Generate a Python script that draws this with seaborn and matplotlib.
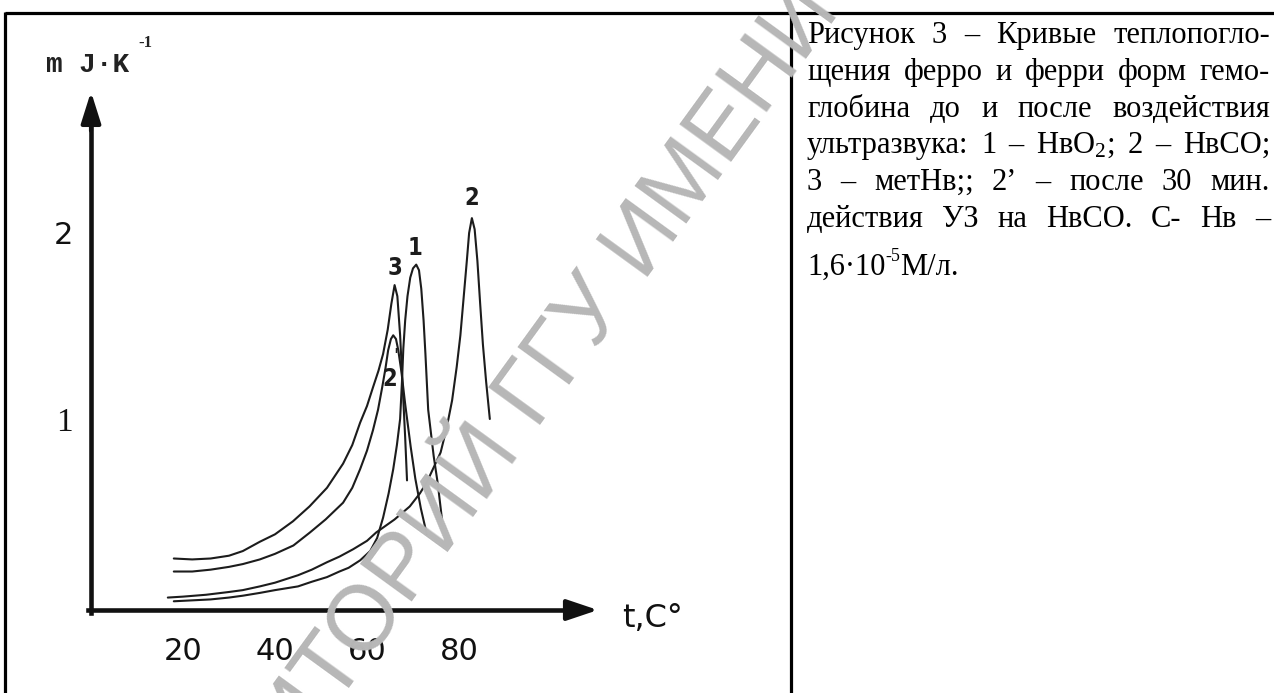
import matplotlib
matplotlib.use("Agg")
import matplotlib.pyplot as plt
import seaborn as sns
import pandas as pd
from matplotlib.lines import Line2D

# ---------------- data ----------------
t_curve1 = [18, 22, 26, 30, 33, 36.7, 40, 45, 48, 51.3, 54, 56, 58.5, 60.7, 62.2, 63.5, 64.7, 65.7,
            66.5, 67.2, 67.6, 67.9, 68.3, 68.8, 69.4, 70, 70.7, 71.3, 71.8, 72.3, 72.7, 73.3, 74.5,
            75.4, 76.3]
v_curve1 = [0.02, 0.025, 0.03, 0.04, 0.05, 0.065, 0.08, 0.10, 0.125, 0.15, 0.18, 0.20, 0.24, 0.29,
            0.36, 0.47, 0.60, 0.73, 0.86, 1.00, 1.20, 1.38, 1.53, 1.66, 1.76, 1.81, 1.83, 1.80, 1.70,
            1.53, 1.35, 1.05, 0.80, 0.65, 0.46]

t_curve2 = [16.7, 20, 25, 30, 33, 36.7, 40, 45, 48, 51.3, 54, 57, 60, 62, 66, 69.3, 71.5, 73, 74.5,
            76, 77.3, 78.5, 79.5, 80.3, 81, 81.7, 82.2, 82.8, 83.4, 84, 84.6, 85.2, 85.9, 86.7]
v_curve2 = [0.04, 0.045, 0.055, 0.07, 0.08, 0.10, 0.12, 0.16, 0.19, 0.23, 0.26, 0.30, 0.345, 0.39,
            0.46, 0.53, 0.60, 0.66, 0.74, 0.82, 0.95, 1.10, 1.28, 1.45, 1.65, 1.85, 2.00, 2.08, 2.02,
            1.85, 1.62, 1.40, 1.20, 1.00]

t_curve3 = [18, 22, 26, 30, 33, 36.7, 40, 43.9, 47.5, 51.3, 54.8, 56.8, 58.5, 60, 61.3, 62.5, 63.5,
            64.5, 65.3, 66, 66.6, 67.2, 67.8, 68.3, 68.7]
v_curve3 = [0.25, 0.245, 0.25, 0.265, 0.29, 0.34, 0.38, 0.45, 0.53, 0.63, 0.76, 0.86, 0.98, 1.07,
            1.17, 1.26, 1.35, 1.48, 1.62, 1.72, 1.66, 1.45, 1.15, 0.90, 0.67]

t_curve2p = [18, 22, 26, 30, 33, 36.7, 40, 44, 47.6, 51, 54.8, 56.8, 58.5, 60, 61.3, 62.4, 63.3, 64,
             64.6, 65.2, 65.7, 66.3, 66.8, 67.5, 68.3, 69.5, 70.5, 71.7, 73]
v_curve2p = [0.18, 0.18, 0.19, 0.205, 0.22, 0.245, 0.275, 0.32, 0.39, 0.46, 0.55, 0.63, 0.73, 0.83,
             0.94, 1.05, 1.17, 1.27, 1.37, 1.43, 1.45, 1.43, 1.37, 1.25, 1.08, 0.85, 0.68, 0.52, 0.38]

curve_names = ["1", "2", "3", "2'"]

x_ticks = [20, 40, 60, 80, 100]
x_tick_labels = ["20", "40", "60", "80", ""]
y_ticks = [0.5, 1.0, 1.5, 2.0]
y_tick_labels = ["", "1", "", "2"]

y_unit = "m J·K"
y_unit_sup = "-1"
x_unit = "t,C°"

caption_lines = [
    ["Рисунок", "3", "–", "Кривые", "теплопогло-"],
    ["щения", "ферро", "и", "ферри", "форм", "гемо-"],
    ["глобина", "до", "и", "после", "воздействия"],
    ["ультразвука:", "1", "–", "НвО$_2$;", "2", "–", "НвСО;"],
    ["3", "–", "метНв;;", "2’", "–", "после", "30", "мин."],
    ["действия", "УЗ", "на", "НвСО.", "С-", "Нв", "–"],
]
caption_last = ["1,6·10", "-5", "М/л."]
watermark = "РЕПОЗИТОРИЙ ГГУ ИМЕНИ Ф. СКОРИНЫ"

# ---------------- style ----------------
sns.set_style("white")
plt.rcParams["font.family"] = ["DejaVu Sans"]
plt.rcParams["mathtext.fontset"] = "custom"
plt.rcParams["mathtext.rm"] = "Liberation Serif"
plt.rcParams["mathtext.it"] = "Liberation Serif:italic"

W, H = 1274, 693
fig = plt.figure(figsize=(W / 100, H / 100), dpi=100)
fig.patch.set_facecolor("white")

# chart cell axes: pixel x 0..791, pixel y 13..693
ax = fig.add_axes([0, 0, 791 / W, 680 / H])
ax.set_facecolor("none")
ax.set_xlim(-91 / 4.6, 700 / 4.6)
ax.set_ylim(-88 / 186, 592 / 186)

frames = []
for name, tt, vv in zip(curve_names,
                        [t_curve1, t_curve2, t_curve3, t_curve2p],
                        [v_curve1, v_curve2, v_curve3, v_curve2p]):
    frames.append(pd.DataFrame({"t": tt, "v": vv, "curve": name}))
df = pd.concat(frames, ignore_index=True)
for name in curve_names:
    sub = df[df["curve"] == name]
    sns.lineplot(data=sub, x="t", y="v", ax=ax, color="#1c1c1c", lw=1.5,
                 sort=False, estimator=None, legend=False)

# axes as arrows
for s in ["top", "right"]:
    ax.spines[s].set_visible(False)
ax.spines["left"].set_position(("data", 0))
ax.spines["bottom"].set_position(("data", -0.027))
ax.spines["left"].set_bounds(-0.045, 2.63)
ax.spines["bottom"].set_bounds(-0.6, 105.5)
for s in ["left", "bottom"]:
    ax.spines[s].set_linewidth(3.3)
    ax.spines[s].set_color("#111111")
    ax.spines[s].set_zorder(3)

ax.set_xticks(x_ticks)
ax.set_xticklabels(x_tick_labels)
ax.set_yticks(y_ticks)
ax.set_yticklabels(y_tick_labels)
ax.tick_params(axis="x", direction="inout", length=13, width=2.5, pad=13,
               labelsize=22, colors="#111111")
ax.tick_params(axis="y", direction="inout", length=12, width=2.5, pad=7,
               labelsize=22, colors="#111111")
for lbl in ax.get_xticklabels():
    lbl.set_family("DejaVu Sans")
yl = ax.get_yticklabels()
yl[1].set_family("Liberation Serif")
yl[1].set_fontsize(24)
yl[3].set_family("DejaVu Sans")
ax.set_xlabel("")
ax.set_ylabel("")

ax.annotate("", xy=(0, 2.76), xytext=(0, 2.55),
            arrowprops=dict(arrowstyle="-|>,head_length=0.95,head_width=0.3",
                            color="#111111", lw=3, mutation_scale=20,
                            shrinkA=0, shrinkB=0), zorder=4)
ax.annotate("", xy=(110.2, -0.027), xytext=(104, -0.027),
            arrowprops=dict(arrowstyle="-|>,head_length=0.95,head_width=0.32",
                            color="#111111", lw=3, mutation_scale=20,
                            shrinkA=0, shrinkB=0), zorder=4)

# axis units
ax.text(-9.8, 2.866, y_unit, fontsize=20, family="Liberation Mono",
        fontweight="bold", ha="left", va="baseline", color="#222222")
ax.text(10.2, 3.0, y_unit_sup, fontsize=12, family="Liberation Serif",
        fontweight="bold", ha="left", va="baseline", color="#222222")
ax.text(115.5, -0.12, x_unit, fontsize=23, family="DejaVu Sans",
        ha="left", va="baseline", color="#111111")

# curve labels
lab_font = ["DejaVu Sans Condensed", "Liberation Sans Narrow", "DejaVu Sans"]
for txt, (xx, yy) in zip(["2", "1", "3", "2"],
                         [(82.8, 2.19), (70.4, 1.92), (66.1, 1.81), (65.0, 1.215)]):
    ax.text(xx, yy, txt, fontsize=17, family=lab_font, fontstretch="condensed",
            ha="center", va="center", fontweight="bold", color="#1c1c1c")
ax.text(66.3, 1.34, "'", fontsize=13, family="DejaVu Sans", ha="center",
        va="center", color="#1c1c1c")

# table borders
def fig_line(x0, y0, x1, y1):
    fig.add_artist(Line2D([x0 / W, x1 / W], [1 - y0 / H, 1 - y1 / H],
                          transform=fig.transFigure, color="black", lw=2.3,
                          solid_capstyle="butt"))

fig_line(5, 13, W, 13)
fig_line(5, 12, 5, H)
fig_line(791, 12, 791, H)

# caption text, justified
X0, X1 = 807, 1270
baselines = [43, 80, 117, 153, 190, 227]
FS = 22
fig.canvas.draw()
renderer = fig.canvas.get_renderer()
for words, yb in zip(caption_lines, baselines):
    texts = [fig.text(0, 1 - yb / H, w, fontsize=FS, family="Liberation Serif",
                      ha="left", va="baseline", color="black") for w in words]
    widths = [t.get_window_extent(renderer).width for t in texts]
    gap = (X1 - X0 - sum(widths)) / (len(words) - 1)
    x = X0
    for t, w in zip(texts, widths):
        t.set_x(x / W)
        x += w + gap

# last caption line with a small superscript
yb = 275
x = X0
for k, part in enumerate(caption_last):
    if k == 1:
        t = fig.text(x / W, 1 - (yb - 14) / H, part, fontsize=13,
                     family="Liberation Serif", ha="left", va="baseline", color="black")
    else:
        t = fig.text(x / W, 1 - yb / H, part, fontsize=FS,
                     family="Liberation Serif", ha="left", va="baseline", color="black")
    x += t.get_window_extent(renderer).width

# watermark
fig.text(636 / W, 1 - 252 / H, watermark, fontsize=66, family="Liberation Sans",
         rotation=54, rotation_mode="anchor", ha="center", va="center",
         color="#b7b7b7", zorder=10)

fig.savefig("out.png", dpi=100, facecolor="white")
